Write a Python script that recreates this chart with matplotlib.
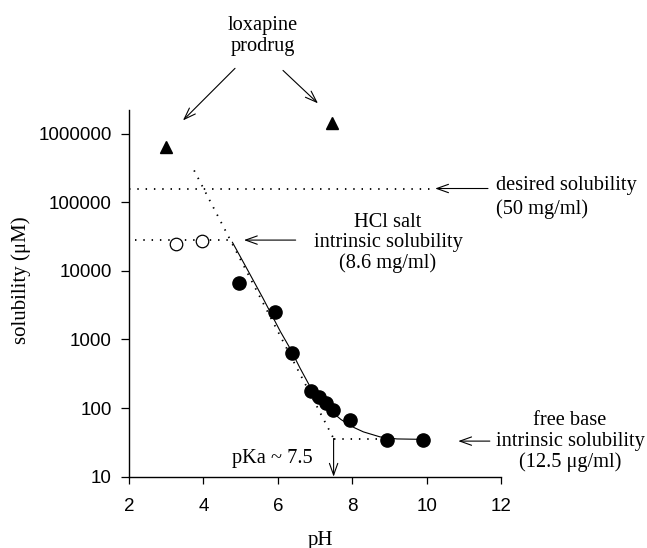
import matplotlib.pyplot as plt
import numpy as np

# data
prodrug_ph = [3.0, 7.45]
prodrug_sol = [630000, 1400000]

hcl_ph = [3.26, 3.96]
hcl_sol = [24900, 27200]

base_ph = [4.95, 5.93, 6.38, 6.90, 7.11, 7.29, 7.48, 7.94, 8.93, 9.90]
base_sol = [6700, 2500, 635, 178, 143, 117, 93, 67, 34, 34]

# fitted curve
fit_ph = [4.78, 5.2, 5.6, 6.07, 6.33, 6.60, 6.87, 7.0, 7.14, 7.3, 7.5, 7.7, 7.86, 8.05, 8.30, 8.75, 9.2, 9.9]
fit_sol = [26000, 10000, 4000, 1300, 740, 380, 204, 166, 131, 107, 84, 68, 60, 52, 45, 38, 35.5, 35]

# dotted guide lines
desired_ph = [2.0, 10.1]
desired_sol = [158000, 158000]
salt_ph = [2.15, 4.75]
salt_sol = [28000, 28000]
slope_ph = [3.75, 7.5]
slope_sol = [290000, 36]
s0_ph = [7.5, 8.85]
s0_sol = [36, 36]

yticks = [10, 100, 1000, 10000, 100000, 1000000]
yticklabels = ['10', '100', '1000', '10000', '100000', '1000000']
xticks = [2, 4, 6, 8, 10, 12]

W, H = 647, 548
serif = 'Liberation Serif'
sans = 'Liberation Sans'


def px(x, y):
    return x / W, 1 - y / H


fig = plt.figure(figsize=(W / 100, H / 100), dpi=100)
ax = fig.add_axes([129 / W, 1 - 476.7 / H, 372 / W, 366.7 / H])
ax.set_yscale('log')
ax.set_xlim(2, 12)
ax.set_ylim(10, 2.2e6)

dots = (0, (0.8, 3.8))
ax.plot(desired_ph, desired_sol, color='black', lw=1.3, linestyle=dots)
ax.plot(salt_ph, salt_sol, color='black', lw=1.3, linestyle=dots)
ax.plot(slope_ph, slope_sol, color='black', lw=1.3, linestyle=dots)
ax.plot(s0_ph, s0_sol, color='black', lw=1.3, linestyle=dots)

ax.plot(fit_ph, fit_sol, color='black', lw=0.8)

ax.plot(base_ph, base_sol, 'o', color='black', markersize=9.5, clip_on=False)
ax.plot(hcl_ph, hcl_sol, 'o', markerfacecolor='white', markeredgecolor='black',
        markeredgewidth=0.9, markersize=9, clip_on=False)
ax.plot(prodrug_ph, prodrug_sol, '^', color='black', markersize=8.5, clip_on=False)

ax.spines['top'].set_visible(False)
ax.spines['right'].set_visible(False)
ax.spines['left'].set_linewidth(1.0)
ax.spines['bottom'].set_linewidth(1.0)

ax.set_yticks(yticks)
ax.set_yticklabels(yticklabels)
ax.yaxis.set_minor_locator(plt.NullLocator())
ax.set_xticks(xticks)
ax.tick_params(axis='y', direction='out', length=5.5, width=0.9, pad=7)
ax.tick_params(axis='x', direction='out', length=5, width=0.9, pad=10)
for lab in ax.get_xticklabels() + ax.get_yticklabels():
    lab.set_family(sans)
    lab.set_fontsize(13.5)

ax.set_xlabel('pH', family=serif, fontsize=15)
ax.xaxis.set_label_coords(0.515, (476.7 - 540) / 366.7)
ax.set_ylabel('solubility (\u03bcM)', family=serif, fontsize=15)
ax.yaxis.set_label_coords((20.7 - 129) / 372, (476.7 - 280) / 366.7)
ax.yaxis.label.set_va('center')
ax.xaxis.label.set_va('center')

arrow = dict(arrowstyle='->,head_length=0.7,head_width=0.25', lw=0.8, color='black',
             shrinkA=0, shrinkB=0, mutation_scale=12)

# arrows
ax.annotate('', xy=(3.45, 1.55e6), xytext=(4.85, 8.9e6), arrowprops=arrow, annotation_clip=False)
ax.annotate('', xy=(7.08, 2.75e6), xytext=(6.14, 8.3e6), arrowprops=arrow, annotation_clip=False)
ax.annotate('', xy=(10.23, 158000), xytext=(11.65, 158000), arrowprops=arrow, annotation_clip=False)
ax.annotate('', xy=(5.09, 28000), xytext=(6.48, 28000), arrowprops=arrow, annotation_clip=False)
ax.annotate('', xy=(10.85, 33), xytext=(11.70, 33), arrowprops=arrow, annotation_clip=False)
ax.annotate('', xy=(7.5, 10), xytext=(7.5, 36), arrowprops=arrow, annotation_clip=False)

# labels
fig.text(*px(263, 36), 'loxapine\nprodrug', family=serif, fontsize=14.7,
         ha='center', va='center', linespacing=1.1)
fig.text(*px(496, 197.5), 'desired solubility\n(50 mg/ml)', family=serif, fontsize=14.7,
         ha='left', va='center', linespacing=1.25)
fig.text(*px(388, 243), 'HCl salt\nintrinsic solubility\n(8.6 mg/ml)', family=serif,
         fontsize=14.7, ha='center', va='center', linespacing=1.1)
fig.text(*px(570, 441.7), 'free base\nintrinsic solubility\n(12.5 \u03bcg/ml)', family=serif,
         fontsize=14.7, ha='center', va='center', linespacing=1.1)
fig.text(*px(272, 459), 'pKa ~ 7.5', family=serif, fontsize=14.7, ha='center', va='center')

fig.savefig('out.png', dpi=100)
